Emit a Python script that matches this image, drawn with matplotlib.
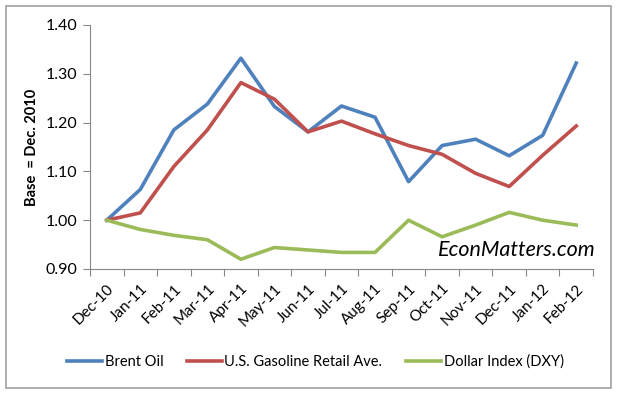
import numpy as np
import matplotlib.pyplot as plt
from matplotlib.patches import Rectangle

months = ["Dec-10", "Jan-11", "Feb-11", "Mar-11", "Apr-11", "May-11", "Jun-11", "Jul-11",
          "Aug-11", "Sep-11", "Oct-11", "Nov-11", "Dec-11", "Jan-12", "Feb-12"]
brent = [1.000, 1.063, 1.185, 1.238, 1.332, 1.233, 1.181, 1.234, 1.211, 1.079, 1.153, 1.166, 1.132, 1.174, 1.322]
gasoline = [1.000, 1.015, 1.110, 1.185, 1.282, 1.248, 1.181, 1.203, 1.177, 1.153, 1.135, 1.096, 1.069, 1.133, 1.193]
dollar = [1.000, 0.981, 0.969, 0.960, 0.920, 0.944, 0.939, 0.934, 0.934, 1.000, 0.966, 0.990, 1.016, 1.000, 0.990]

plt.rcParams['font.family'] = ['Lato', 'DejaVu Sans']

fig = plt.figure(figsize=(6.18, 3.94), dpi=100)
ax = fig.add_axes([90 / 618, 1 - 269 / 394, 503 / 618, 244 / 394])

# рамка навколо всього графіка
fig.patches.append(Rectangle((6 / 618, 6 / 394), 605 / 618, 382 / 394, transform=fig.transFigure,
                             fill=False, edgecolor="#a0a0a0", linewidth=1.2))

x = np.arange(len(months))
ax.plot(x, brent, color="#4F81BD", lw=2.6, label="Brent Oil")
ax.plot(x, gasoline, color="#C0504D", lw=2.6, label="U.S. Gasoline Retail Ave.")
ax.plot(x, dollar, color="#9BBB59", lw=2.6, label="Dollar Index (DXY)")

ax.set_xlim(-0.5, len(months) - 0.5)
ax.set_ylim(0.90, 1.40)
ax.set_yticks(np.arange(0.90, 1.401, 0.10))
ax.set_yticklabels([f"{v:.2f}" for v in np.arange(0.90, 1.401, 0.10)], fontsize=11.5)

ax.set_xticks(np.arange(-0.5, len(months), 1.0))
ax.set_xticklabels([])
ax.set_xticks(x, minor=True)
ax.set_xticklabels(months, minor=True, rotation=45, ha="right", rotation_mode="anchor", fontsize=11)
ax.tick_params(axis="x", which="minor", length=0, pad=9)
ax.tick_params(axis="x", which="major", length=5, color="#888888", direction="out")
ax.tick_params(axis="y", length=5, color="#888888", direction="out", pad=4)

for s in ["top", "right"]:
    ax.spines[s].set_visible(False)
for s in ["left", "bottom"]:
    ax.spines[s].set_color("#888888")

ax.set_ylabel("Base  = Dec. 2010", fontsize=10.5, fontweight="bold", labelpad=5)

ax.text(1.005, 0.035, "EconMatters.com", transform=ax.transAxes, ha="right", va="bottom",
        fontsize=15.5, style="italic")

fig.legend(loc="center", bbox_to_anchor=(0.51, 1 - 362 / 394), ncol=3, frameon=False,
           fontsize=10.5, handlelength=2.4, columnspacing=1.6, handletextpad=0.2)

plt.savefig("out.png", dpi=100)
